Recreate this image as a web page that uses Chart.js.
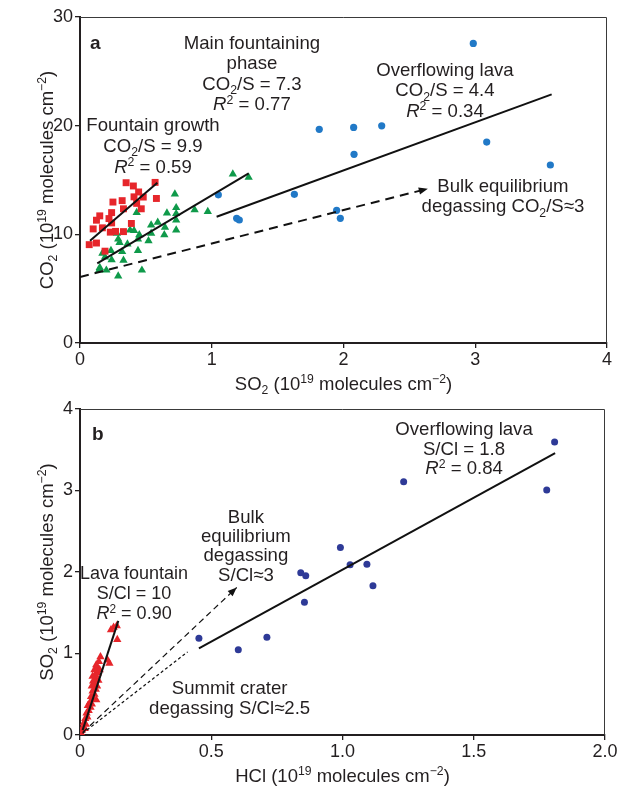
<!DOCTYPE html>
<html><head><meta charset="utf-8">
<script src="https://cdn.jsdelivr.net/npm/chart.js@4/dist/chart.umd.min.js"></script>
<style>
html,body{margin:0;padding:0;background:#fff;}
#wrap{position:relative;width:619px;height:788px;overflow:hidden;}
canvas{position:absolute;left:0;}
</style></head><body>
<div id="wrap">
<canvas id="ca" width="619" height="395" style="top:0"></canvas>
<canvas id="cb" width="619" height="393" style="top:395px"></canvas>
</div>
<script>
// ---------- Panel a data (10^19 molecules cm^-2) ----------
const growthSO2 = [0.35,0.405,0.57,0.445,0.41,0.48,0.58,0.25,0.32,0.43,0.33,0.465,0.24,0.15,0.125,0.22,0.24,0.39,0.10,0.17,0.23,0.27,0.07,0.125,0.19,0.33];
const growthCO2 = [14.75,14.45,14.78,13.9,13.45,13.43,13.3,12.97,13.1,12.85,12.35,12.35,12.0,11.7,11.3,11.45,11.05,11.0,10.5,10.6,10.2,10.27,9.05,9.2,8.45,10.25];
const mainSO2 = [1.16,1.28,0.72,0.43,0.66,0.73,0.73,0.87,0.97,0.59,0.54,0.73,0.645,0.73,0.38,0.41,0.28,0.45,0.54,0.52,0.30,0.36,0.44,0.32,0.235,0.19,0.33,0.24,0.15,0.20,0.145,0.29,0.47,0.29,0.44,0.64,0.17];
const mainCO2 = [15.55,15.25,13.7,12.0,11.95,12.45,11.9,12.25,12.1,11.1,10.85,11.3,10.65,10.4,10.4,10.35,10.1,9.95,10.1,9.4,9.25,9.1,8.5,8.4,8.5,7.9,7.6,7.65,6.95,6.7,6.7,6.15,6.7,9.55,9.55,9.95,8.25];
const lavaSO2 = [2.985,1.816,2.077,2.29,2.08,3.087,3.57,1.627,1.948,1.976,1.189,1.209,1.05];
const lavaCO2 = [27.57,19.66,19.84,19.99,17.36,18.49,16.38,13.68,12.21,11.47,11.47,11.32,13.64];
const growthFitSO2 = [0.076,0.587];
const growthFitCO2 = [9.41,14.75];
const mainFitSO2 = [0.131,1.28];
const mainFitCO2 = [7.33,15.61];
const lavaFitSO2 = [1.037,3.58];
const lavaFitCO2 = [11.62,22.88];
const bulkSO2 = [0,2.64];
const bulkCO2 = [6.08,14.2];
const aXTicks = ['0','1','2','3','4'];
const aYTicks = ['0','10','20','30'];

// ---------- Panel b data ----------
const fountainHCl = [0.005,0.008,0.012,0.018,0.015,0.022,0.02,0.028,0.025,0.033,0.03,0.04,0.038,0.045,0.05,0.062,0.042,0.055,0.048,0.06,0.045,0.055,0.065,0.05,0.06,0.07,0.048,0.058,0.068,0.055,0.065,0.075,0.062,0.072,0.078,0.105,0.112,0.118,0.128,0.14,0.142];
const fountainSO2 = [0.02,0.06,0.1,0.08,0.15,0.13,0.2,0.22,0.27,0.3,0.36,0.34,0.4,0.38,0.44,0.43,0.47,0.5,0.54,0.56,0.6,0.62,0.6,0.66,0.69,0.67,0.72,0.74,0.76,0.8,0.82,0.8,0.86,0.9,0.96,0.92,0.88,1.29,1.32,1.34,1.17];
const overflowHCl = [1.808,1.778,1.233,0.992,1.029,1.093,0.841,0.86,1.116,0.855,0.712,0.453,0.603];
const overflowSO2 = [3.595,3.006,3.108,2.30,2.09,2.094,1.99,1.955,1.83,1.63,1.20,1.186,1.047];
const fountainFitHCl = [0.01,0.146];
const fountainFitSO2 = [0.06,1.40];
const overflowFitHCl = [0.453,1.81];
const overflowFitSO2 = [1.064,3.46];
const bulkHCl = [0.01,0.597];
const bulkSO2b = [0.03,1.81];
const summitHCl = [0.01,0.41];
const summitSO2 = [0.02,1.02];
const bXTicks = ['0','0.5','1.0','1.5','2.0'];
const bYTicks = ['0','1','2','3','4'];

// ---------- helpers ----------
const FONT = '"Liberation Sans", Arial, Helvetica, sans-serif';
const TXT = '#231f20';
const zip = (xs, ys) => xs.map((x, i) => ({x: x, y: ys[i]}));

function parseRich(s){
  const out = []; let i = 0, buf = '', italic = false;
  const flush = () => { if (buf) { out.push([buf, italic ? 'i' : '']); buf = ''; } };
  while (i < s.length){
    const c = s[i];
    if ((c === '_' || c === '^') && s[i+1] === '{'){
      flush(); const j = s.indexOf('}', i);
      out.push([s.slice(i+2, j), c === '_' ? 'sub' : 'sup']); i = j + 1; continue;
    }
    if (c === '*'){ flush(); italic = !italic; i++; continue; }
    buf += c; i++;
  }
  flush();
  return out;
}
function drawRich(ctx, s, x, y, size, align, bold){
  const parts = parseRich(s);
  const fonts = parts.map(p => {
    const small = (p[1] === 'sub' || p[1] === 'sup');
    const sz = small ? size * 0.66 : size;
    return (p[1] === 'i' ? 'italic ' : '') + (bold ? 'bold ' : '') + sz + 'px ' + FONT;
  });
  const widths = parts.map((p, k) => { ctx.font = fonts[k]; return ctx.measureText(p[0]).width; });
  const total = widths.reduce((a, b) => a + b, 0);
  let cx = align === 'center' ? x - total / 2 : (align === 'right' ? x - total : x);
  ctx.textBaseline = 'alphabetic';
  ctx.textAlign = 'left';
  parts.forEach((p, k) => {
    const dy = p[1] === 'sub' ? size * 0.24 : (p[1] === 'sup' ? -size * 0.36 : 0);
    ctx.font = fonts[k];
    ctx.fillText(p[0], cx, y + dy);
    cx += widths[k];
  });
}

const decor = {
  id: 'decor',
  afterDatasetsDraw(chart, args, opts){
    const ctx = chart.ctx, ca = chart.chartArea;
    const xs = chart.scales.x, ys = chart.scales.y;
    ctx.save();
    // frame top / right
    ctx.strokeStyle = '#3a3a3a'; ctx.lineWidth = 1;
    ctx.beginPath();
    ctx.moveTo(ca.left, ca.top + 0.5); ctx.lineTo(ca.right - 0.5, ca.top + 0.5); ctx.lineTo(ca.right - 0.5, ca.bottom);
    ctx.stroke();
    // arrowheads
    chart.data.datasets.forEach((ds, i) => {
      if (!ds.arrow) return;
      const pts = chart.getDatasetMeta(i).data;
      const a = pts[pts.length - 2], b = pts[pts.length - 1];
      const ang = Math.atan2(b.y - a.y, b.x - a.x);
      const L = 9, W = 3.6;
      ctx.fillStyle = '#111';
      ctx.beginPath();
      ctx.moveTo(b.x, b.y);
      ctx.lineTo(b.x - L * Math.cos(ang) + W * Math.sin(ang), b.y - L * Math.sin(ang) - W * Math.cos(ang));
      ctx.lineTo(b.x - L * Math.cos(ang) - W * Math.sin(ang), b.y - L * Math.sin(ang) + W * Math.cos(ang));
      ctx.closePath(); ctx.fill();
    });
    // annotations
    ctx.fillStyle = TXT;
    (opts.notes || []).forEach(n => {
      const px = xs.getPixelForValue(n.x), py = ys.getPixelForValue(n.y);
      n.lines.forEach((ln, k) => drawRich(ctx, ln, px, py + k * n.lh, n.size, n.align, n.bold));
    });
    // axis titles
    const xt = opts.xTitle, yt = opts.yTitle;
    drawRich(ctx, xt.text, (ca.left + ca.right) / 2, ca.bottom + xt.offset, xt.size, 'center', false);
    ctx.translate(ca.left - yt.offset, (ca.top + ca.bottom) / 2);
    ctx.rotate(-Math.PI / 2);
    drawRich(ctx, yt.text, 0, 0, yt.size, 'center', false);
    ctx.restore();
  }
};

function axis(min, max, labels, isX, fitSize){
  return {
    type: 'linear', min: min, max: max,
    afterBuildTicks: s => { s.ticks = labels.map(v => ({value: parseFloat(v)})); },
    ticks: {
      callback: (v, i) => labels[i], autoSkip: false, maxRotation: 0,
      font: {size: 18, family: FONT}, color: TXT, padding: isX ? 1 : 2
    },
    grid: {display: true, drawOnChartArea: false, drawTicks: true, tickLength: 5, color: '#231f20', lineWidth: 1.3},
    border: {display: true, color: '#231f20', width: 2},
    afterFit: s => { if (isX) s.height = fitSize; else s.width = fitSize; }
  };
}
function pts(label, xs, ys, color, style, r){
  return {label: label, data: zip(xs, ys), backgroundColor: color, borderColor: color, borderWidth: 0,
          pointStyle: style, pointRadius: r, pointHoverRadius: r, showLine: false, order: 2};
}
function fit(label, xs, ys, dash, width, arrow){
  return {label: label, data: zip(xs, ys), showLine: true, borderColor: '#111', borderWidth: width,
          borderDash: dash, pointRadius: 0, pointHoverRadius: 0, fill: false, arrow: arrow, order: 1};
}
const common = {
  responsive: false, animation: false, devicePixelRatio: 1,
  plugins: {legend: {display: false}, tooltip: {enabled: false}}
};

new Chart(document.getElementById('ca'), {
  type: 'scatter',
  data: {datasets: [
    pts('Fountain growth', growthSO2, growthCO2, '#e6262b', 'rect', 4.9),
    pts('Main fountaining phase', mainSO2, mainCO2, '#0f9a4a', 'triangle', 4.8),
    pts('Overflowing lava', lavaSO2, lavaCO2, '#2179c7', 'circle', 3.6),
    fit('Fountain growth fit', growthFitSO2, growthFitCO2, [], 2, false),
    fit('Main fountaining fit', mainFitSO2, mainFitCO2, [], 2, false),
    fit('Overflowing lava fit', lavaFitSO2, lavaFitCO2, [], 2, false),
    fit('Bulk equilibrium', bulkSO2, bulkCO2, [9, 6], 2, true)
  ]},
  options: Object.assign({}, common, {
    layout: {padding: {top: 17, right: 12, left: 0, bottom: 0}},
    scales: {x: axis(0, 4, aXTicks, true, 52), y: axis(0, 30, aYTicks, false, 80)},
    plugins: Object.assign({}, common.plugins, {decor: {
      notes: [
        {x: 0.076, y: 27.05, lines: ['a'], size: 19, align: 'left', bold: true, lh: 0},
        {x: 1.305, y: 27.05, lines: ['Main fountaining', 'phase', 'CO_{2}/S = 7.3', '*R*^{2} = 0.77'], size: 18.6, align: 'center', lh: 20.4},
        {x: 2.77, y: 24.6, lines: ['Overflowing lava', 'CO_{2}/S = 4.4', '*R*^{2} = 0.34'], size: 18.6, align: 'center', lh: 20.7},
        {x: 0.554, y: 19.5, lines: ['Fountain growth', 'CO_{2}/S = 9.9', '*R*^{2} = 0.59'], size: 18.6, align: 'center', lh: 20.7},
        {x: 3.21, y: 13.89, lines: ['Bulk equilibrium', 'degassing CO_{2}/S≈3'], size: 18.6, align: 'center', lh: 20}
      ],
      xTitle: {text: 'SO_{2} (10^{19} molecules cm^{−2})', size: 18.5, offset: 47},
      yTitle: {text: 'CO_{2} (10^{19} molecules cm^{−2})', size: 18.5, offset: 27}
    }})
  }),
  plugins: [decor]
});

new Chart(document.getElementById('cb'), {
  type: 'scatter',
  data: {datasets: [
    pts('Lava fountain', fountainHCl, fountainSO2, '#e6262b', 'triangle', 4.8),
    pts('Overflowing lava', overflowHCl, overflowSO2, '#2e3a97', 'circle', 3.5),
    fit('Lava fountain fit', fountainFitHCl, fountainFitSO2, [], 2, false),
    fit('Overflowing lava fit', overflowFitHCl, overflowFitSO2, [], 2, false),
    fit('Bulk equilibrium degassing', bulkHCl, bulkSO2b, [6, 4], 1.2, true),
    fit('Summit crater degassing', summitHCl, summitSO2, [3, 2.5], 1.2, false)
  ]},
  options: Object.assign({}, common, {
    layout: {padding: {top: 14, right: 14, left: 0, bottom: 0}},
    scales: {x: axis(0, 2, bXTicks, true, 53), y: axis(0, 4, bYTicks, false, 80)},
    plugins: Object.assign({}, common.plugins, {decor: {
      notes: [
        {x: 0.046, y: 3.62, lines: ['b'], size: 19, align: 'left', bold: true, lh: 0},
        {x: 1.463, y: 3.68, lines: ['Overflowing lava', 'S/Cl = 1.8', '*R*^{2} = 0.84'], size: 18.6, align: 'center', lh: 19.6},
        {x: 0.632, y: 2.605, lines: ['Bulk', 'equilibrium', 'degassing', 'S/Cl≈3'], size: 18.6, align: 'center', lh: 19.3},
        {x: 0.206, y: 1.914, lines: ['Lava fountain', 'S/Cl = 10', '*R*^{2} = 0.90'], size: 18, align: 'center', lh: 20},
        {x: 0.57, y: 0.503, lines: ['Summit crater', 'degassing S/Cl≈2.5'], size: 18.6, align: 'center', lh: 20}
      ],
      xTitle: {text: 'HCl (10^{19} molecules cm^{−2})', size: 18.5, offset: 47},
      yTitle: {text: 'SO_{2} (10^{19} molecules cm^{−2})', size: 18.5, offset: 27}
    }})
  }),
  plugins: [decor]
});
</script>
</body></html>
